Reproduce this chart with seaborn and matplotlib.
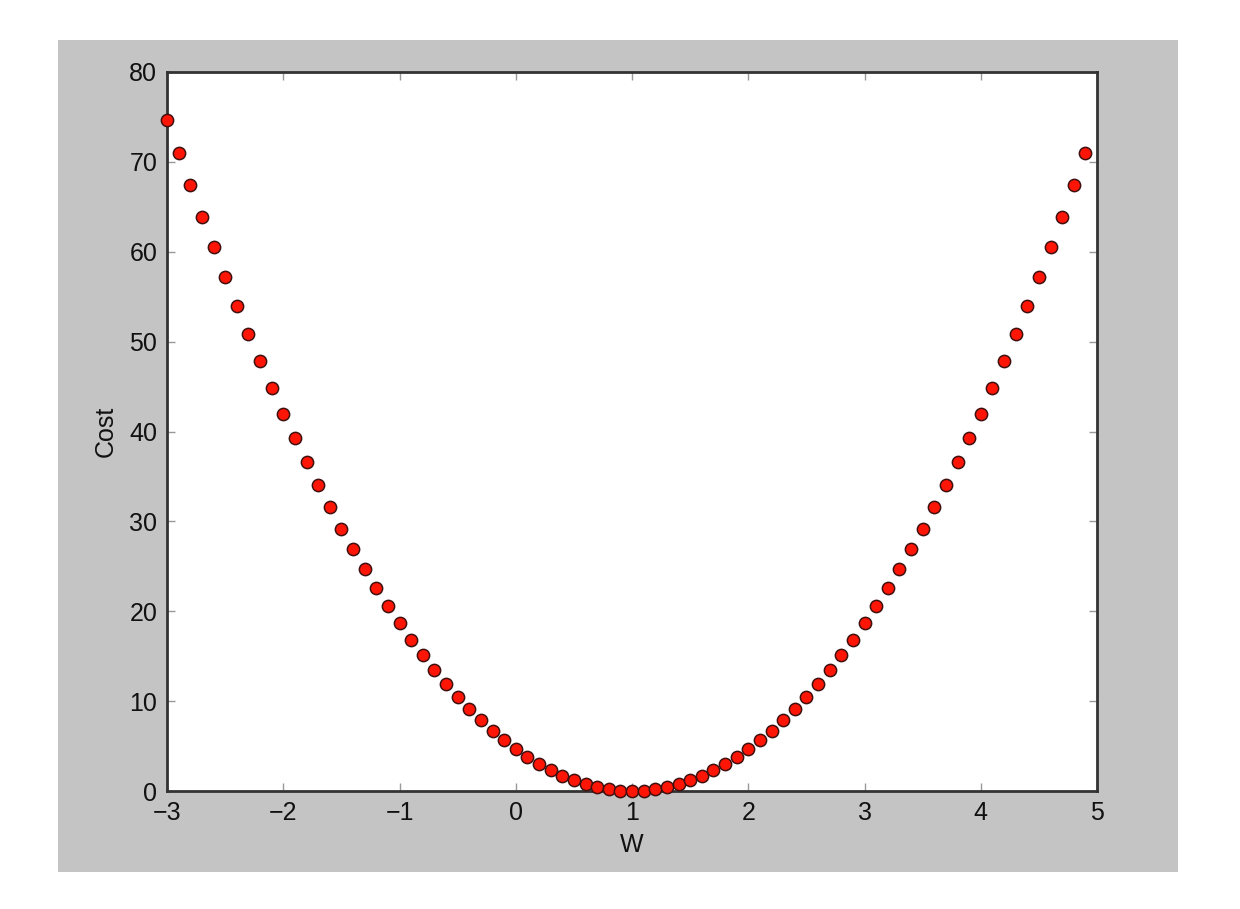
import matplotlib
matplotlib.use("Agg")
import matplotlib.pyplot as plt
import seaborn as sns
import pandas as pd
from matplotlib.patches import Rectangle

# W values and cost
w_vals = [-3.0, -2.9, -2.8, -2.7, -2.6, -2.5, -2.4, -2.3, -2.2, -2.1,
          -2.0, -1.9, -1.8, -1.7, -1.6, -1.5, -1.4, -1.3, -1.2, -1.1,
          -1.0, -0.9, -0.8, -0.7, -0.6, -0.5, -0.4, -0.3, -0.2, -0.1,
          0.0, 0.1, 0.2, 0.3, 0.4, 0.5, 0.6, 0.7, 0.8, 0.9,
          1.0, 1.1, 1.2, 1.3, 1.4, 1.5, 1.6, 1.7, 1.8, 1.9,
          2.0, 2.1, 2.2, 2.3, 2.4, 2.5, 2.6, 2.7, 2.8, 2.9,
          3.0, 3.1, 3.2, 3.3, 3.4, 3.5, 3.6, 3.7, 3.8, 3.9,
          4.0, 4.1, 4.2, 4.3, 4.4, 4.5, 4.6, 4.7, 4.8, 4.9]
cost_vals = [74.67, 70.98, 67.39, 63.89, 60.48, 57.17, 53.95, 50.82, 47.79, 44.85,
             42.00, 39.25, 36.59, 34.02, 31.55, 29.17, 26.88, 24.69, 22.59, 20.58,
             18.67, 16.85, 15.12, 13.49, 11.95, 10.50, 9.15, 7.89, 6.72, 5.65,
             4.67, 3.78, 2.99, 2.29, 1.68, 1.17, 0.75, 0.42, 0.19, 0.05,
             0.00, 0.05, 0.19, 0.42, 0.75, 1.17, 1.68, 2.29, 2.99, 3.78,
             4.67, 5.65, 6.72, 7.89, 9.15, 10.50, 11.95, 13.49, 15.12, 16.85,
             18.67, 20.58, 22.59, 24.69, 26.88, 29.17, 31.55, 34.02, 36.59, 39.25,
             42.00, 44.85, 47.79, 50.82, 53.95, 57.17, 60.48, 63.89, 67.39, 70.98]
x_ticks = [-3, -2, -1, 0, 1, 2, 3, 4, 5]
y_ticks = [0, 10, 20, 30, 40, 50, 60, 70, 80]

df = pd.DataFrame({"W": w_vals, "Cost": cost_vals})

sns.set_style("ticks")
plt.rcParams["font.family"] = ["Liberation Sans", "DejaVu Sans"]

fig = plt.figure(figsize=(12.4, 9.09), dpi=100)
fig.patch.set_facecolor("white")
# grey window background of the old matplotlib screenshot
fig.add_artist(Rectangle((0.0468, 0.0407), 0.9032, 0.9153, transform=fig.transFigure,
                         facecolor="#c4c4c4", edgecolor="none", zorder=0))

ax = fig.add_axes([0.1347, 0.1298, 0.7500, 0.7910])
ax.set_facecolor("white")
sns.scatterplot(data=df, x="W", y="Cost", ax=ax, color="#ff1505", edgecolor="#401010",
                linewidth=1.1, s=78, zorder=3, clip_on=False)

ax.set_xlim(-3, 5)
ax.set_ylim(0, 80)
ax.set_xticks(x_ticks)
ax.set_yticks(y_ticks)
ax.set_xticklabels(["\u22123", "\u22122", "\u22121", "0", "1", "2", "3", "4", "5"])
ax.tick_params(direction="in", length=6, width=1, color="#999999", labelsize=18,
               labelcolor="#111111", top=True, right=True, pad=7)
for sp in ax.spines.values():
    sp.set_visible(True)
    sp.set_linewidth(2)
    sp.set_color("#333333")

ax.set_xlabel("W", fontsize=18, color="#111111", labelpad=6)
ax.set_ylabel("Cost", fontsize=18, color="#111111", labelpad=8)

plt.savefig("out.png", dpi=100, facecolor=fig.get_facecolor())
